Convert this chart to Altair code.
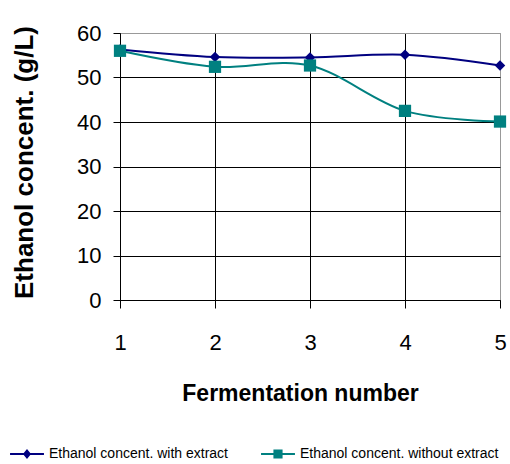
import altair as alt
import pandas as pd

fermentation = [1, 2, 3, 4, 5]
with_extract = [56.3, 54.6, 54.5, 55.1, 52.7]
without_extract = [56.0, 52.4, 52.7, 42.5, 40.1]
series_names = ["Ethanol concent. with extract", "Ethanol concent. without extract"]
series_colors = ["#000080", "#008080"]
y_ticks = [0, 10, 20, 30, 40, 50, 60]

rows = []
for name, vals in zip(series_names, [with_extract, without_extract]):
    for f, v in zip(fermentation, vals):
        rows.append({"Fermentation": f, "Ethanol": v, "Series": name})
df = pd.DataFrame(rows)

FONT = "Liberation Sans"

x_enc = alt.X(
    "Fermentation:Q",
    scale=alt.Scale(domain=[1, 5], nice=False, zero=False),
    axis=alt.Axis(
        values=fermentation, format="d", title="Fermentation number",
        titleFont=FONT, titleFontSize=23, titleFontWeight="bold", titleColor="black",
        titleX=180, titleY=100, titleBaseline="alphabetic", titleAnchor="middle",
        labelFont=FONT, labelFontSize=22, labelColor="black", labelPadding=24,
        labelFlush=False,
        tickSize=8, tickColor="black", domainColor="black",
        gridColor={"condition": {"test": "datum.value >= 5", "value": "#999999"}, "value": "black"},
        gridWidth=1,
    ),
)
y_enc = alt.Y(
    "Ethanol:Q",
    scale=alt.Scale(domain=[0, 60], nice=False),
    axis=alt.Axis(
        values=y_ticks, title="Ethanol concent. (g/L)",
        titleFont=FONT, titleFontSize=26, titleFontWeight="bold", titleColor="black",
        titleAngle=-90, titleX=-88, titleY=129, titleBaseline="alphabetic", titleAlign="center",
        labelFont=FONT, labelFontSize=22, labelColor="black", labelPadding=12,
        labelFlush=False,
        tickSize=7, tickColor="black", domainColor="black",
        gridColor={"condition": {"test": "datum.value >= 60", "value": "#999999"}, "value": "black"},
        gridWidth=1,
    ),
)

color_scale = alt.Scale(domain=series_names, range=series_colors)

legend_shapes = [
    "M-1,-0.06H1V0.06H-1ZM0,-0.3L0.24,0L0,0.3L-0.24,0Z",
    "M-1,-0.06H1V0.06H-1ZM-0.27,-0.27H0.27V0.27H-0.27Z",
]

lines = alt.Chart(df).mark_line(interpolate="cardinal", strokeWidth=2).encode(
    x=x_enc,
    y=y_enc,
    color=alt.Color("Series:N", scale=color_scale, legend=None),
)

points = alt.Chart(df).mark_point(filled=True, opacity=1).encode(
    x="Fermentation:Q",
    y="Ethanol:Q",
    color=alt.Color("Series:N", scale=color_scale, legend=None),
    shape=alt.Shape("Series:N", scale=alt.Scale(domain=series_names, range=["diamond", "square"]), legend=None),
    size=alt.Size("Series:N", scale=alt.Scale(domain=series_names, range=[110, 150]), legend=None),
)

leg_kw = dict(
    title=None, orient="none", legendX=-110, legendY=404, direction="horizontal",
    columns=2, columnPadding=33, labelFont=FONT, labelFontSize=14,
    labelColor="black", labelOffset=5, labelLimit=300, symbolSize=1150,
    symbolOpacity=1, symbolStrokeWidth=0,
)

legend_layer = alt.Chart(df).mark_point(filled=True, opacity=0).encode(
    x="Fermentation:Q",
    y="Ethanol:Q",
    color=alt.Color("Series:N", scale=color_scale, legend=alt.Legend(**leg_kw)),
    shape=alt.Shape("Series:N", scale=alt.Scale(domain=series_names, range=legend_shapes),
                    legend=alt.Legend(**leg_kw)),
)

chart = alt.layer(lines, points, legend_layer).resolve_scale(
    color="independent", shape="independent"
).properties(
    width=380, height=267,
    autosize=alt.AutoSizeParams(type="none"),
    padding={"left": 120, "top": 33, "right": 10, "bottom": 164},
    background="white",
).configure_view(stroke="#999999", strokeWidth=1)

chart.save("out.html", embed_options={"renderer": "svg", "actions": False})
